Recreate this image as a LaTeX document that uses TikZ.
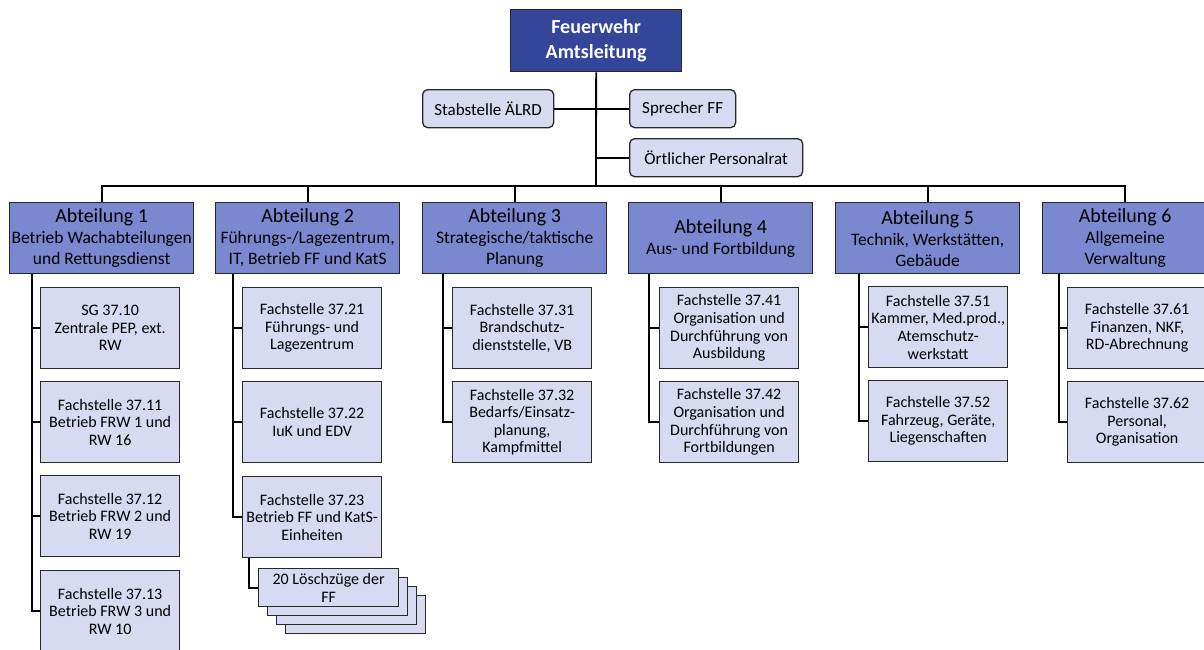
\documentclass[tikz,border=0pt]{standalone}
\usepackage{fontspec}
\setmainfont{Carlito}
\definecolor{topc}{RGB}{52,70,154}
\definecolor{abtc}{RGB}{122,137,207}
\definecolor{subc}{RGB}{215,218,240}
\definecolor{edgec}{RGB}{40,40,40}
\newcommand\abtitle[1]{{\fontsize{20}{22}\selectfont #1}}
\begin{document}
\begin{tikzpicture}[x=1pt,y=-1pt,
 box/.style={draw=edgec, line width=1.3pt, align=center, inner sep=1pt, anchor=north west},
 topbox/.style={box, fill=topc, text=white, font=\fontsize{20}{25}\selectfont\bfseries, minimum width=171pt, minimum height=62pt},
 abt/.style={box, fill=abtc, minimum width=184pt, minimum height=71pt, font=\fontsize{17.5}{21}\selectfont},
 sub/.style={box, fill=subc, minimum width=139pt, minimum height=81pt, inner xsep=0.5pt, font=\fontsize{16}{17.6}\selectfont},
 side/.style={box, fill=subc, rounded corners=5pt, minimum height=38pt, font=\fontsize{17}{20}\selectfont},
 stk/.style={box, fill=subc, minimum width=140pt, minimum height=38pt, font=\fontsize{16}{18}\selectfont},
 link/.style={draw=black, line width=1.8pt}]
\useasboundingbox (0,0) rectangle (1204,649);
\fill[white] (0,0) rectangle (1204,649);

% top
\node[topbox] (top) at (510,9) {Feuerwehr\\Amtsleitung};
\node[side, minimum width=131pt] (stab) at (422,89) {Stabstelle ÄLRD};
\node[side, minimum width=106pt] (spr) at (629,89) {Sprecher FF};
\node[side, minimum width=173pt] (pr) at (629,138) {Örtlicher Personalrat};

% departments
\node[abt] (a1) at (9,202) {\abtitle{Abteilung 1}\\Betrieb Wachabteilungen\\und Rettungsdienst};
\node[abt] (a2) at (215,202) {\abtitle{Abteilung 2}\\Führungs-/Lagezentrum,\\IT, Betrieb FF und KatS};
\node[abt] (a3) at (422,202) {\abtitle{Abteilung 3}\\Strategische/taktische\\Planung};
\node[abt] (a4) at (628,202) {\abtitle{Abteilung 4}\\Aus- und Fortbildung};
\node[abt] (a5) at (835,202) {\abtitle{Abteilung 5}\\Technik, Werkstätten,\\Gebäude};
\node[abt, minimum width=165pt] (a6) at (1042,202) {\abtitle{Abteilung 6}\\Allgemeine\\Verwaltung};

% column 1
\node[sub] (f10) at (40,287) {SG 37.10\\Zentrale PEP, ext.\\RW};
\node[sub] (f11) at (40,381) {Fachstelle 37.11\\Betrieb FRW 1 und\\RW 16};
\node[sub] (f12) at (40,475) {Fachstelle 37.12\\Betrieb FRW 2 und\\RW 19};
\node[sub] (f13) at (40,570) {Fachstelle 37.13\\Betrieb FRW 3 und\\RW 10};
% column 2
\node[sub] (f21) at (242,287) {Fachstelle 37.21\\Führungs- und\\Lagezentrum};
\node[sub] (f22) at (242,381) {Fachstelle 37.22\\IuK und EDV};
\node[sub] (f23) at (242,476) {Fachstelle 37.23\\Betrieb FF und KatS-\\Einheiten};
\node[stk] (lz4) at (285,595) {};
\node[stk] (lz3) at (276,586) {};
\node[stk] (lz2) at (267,577) {};
\node[stk] (lz) at (258,568) {20 Löschzüge der\\FF};
% column 3
\node[sub] (f31) at (452,287) {Fachstelle 37.31\\Brandschutz-\\dienststelle, VB};
\node[sub] (f32) at (452,381) {Fachstelle 37.32\\Bedarfs/Einsatz-\\planung,\\Kampfmittel};
% column 4
\node[sub] (f41) at (659,287) {Fachstelle 37.41\\Organisation und\\Durchführung von\\Ausbildung};
\node[sub] (f42) at (659,381) {Fachstelle 37.42\\Organisation und\\Durchführung von\\Fortbildungen};
% column 5
\node[sub] (f51) at (868,286) {Fachstelle 37.51\\Kammer, Med.prod.,\\Atemschutz-\\werkstatt};
\node[sub] (f52) at (868,380) {Fachstelle 37.52\\Fahrzeug, Geräte,\\Liegenschaften};
% column 6
\node[sub] (f61) at (1067,287) {Fachstelle 37.61\\Finanzen, NKF,\\RD-Abrechnung};
\node[sub] (f62) at (1067,381) {Fachstelle 37.62\\Personal,\\Organisation};

% connectors
\coordinate (bus) at (596,186);
\draw[link] (top.south) -- (bus);
\draw[link] (stab.east) -- (spr.west);
\draw[link] (pr.west) -- (pr.west -| top.south);
\draw[link] (a1.north) |- (bus) -| (a6.north);
\foreach \a in {a2,a3,a4,a5} \draw[link] (\a.north) -- (\a.north |- bus);

\coordinate (c1) at (32,0);
\coordinate (c2) at (233,0);
\coordinate (c3) at (443,0);
\coordinate (c4) at (649,0);
\coordinate (c5) at (859,0);
\coordinate (c6) at (1059,0);

\draw[link] (a1.south -| c1) |- (f13.west);
\foreach \f in {f10,f11,f12} \draw[link] (\f.west) -- (\f.west -| c1);
\draw[link] (a2.south -| c2) |- (f23.west);
\foreach \f in {f21,f22} \draw[link] (\f.west) -- (\f.west -| c2);
\draw[link] (a3.south -| c3) |- (f32.west);
\draw[link] (f31.west) -- (f31.west -| c3);
\draw[link] (a4.south -| c4) |- (f42.west);
\draw[link] (f41.west) -- (f41.west -| c4);
\draw[link] (a5.south -| c5) |- (f52.west);
\draw[link] (f51.west) -- (f51.west -| c5);
\draw[link] (a6.south -| c6) |- (f62.west);
\draw[link] (f61.west) -- (f61.west -| c6);

\coordinate (s23) at ([xshift=7pt]f23.south west);
\draw[link] (s23) |- (lz.west);
\end{tikzpicture}
\end{document}
